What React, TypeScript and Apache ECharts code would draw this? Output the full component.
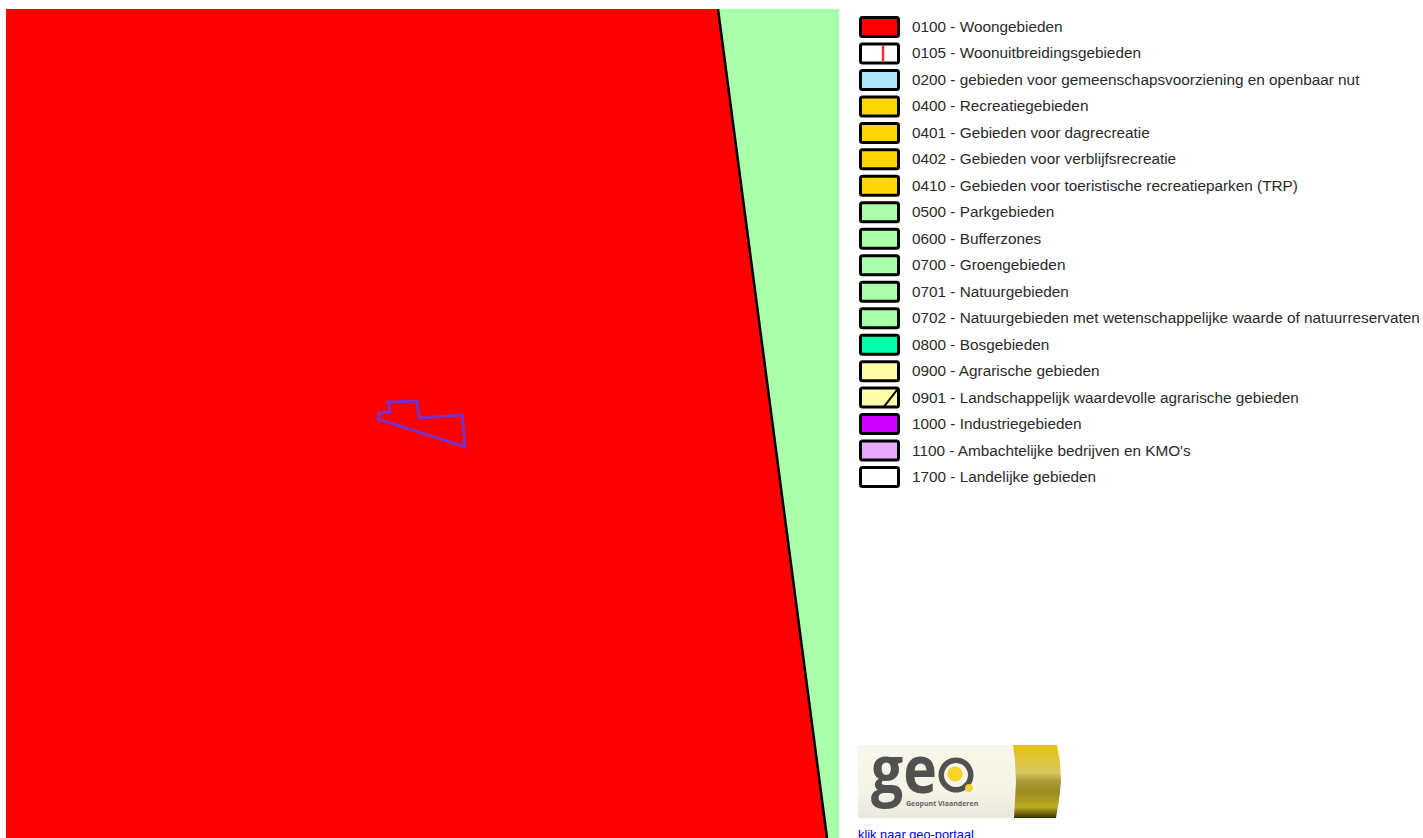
import React, { useEffect, useRef } from "react";
import * as echarts from "echarts";

// Map regions in map units
const zoneNames = ["0700 - Groengebieden", "0100 - Woongebieden"];
const groenZone = [[718, 9], [839, 9], [839, 838], [827, 838]];
const woonZone = [[6, 9], [718, 9], [827, 838], [6, 838]];
const zoneRings = [groenZone, woonZone];
const zoneFills = ["#aaffaa", "#ff0000"];
const boundary = [[718, 9], [827, 838]];
const parcel = [[388, 402], [417, 401], [419, 418], [462, 415], [465, 447], [378, 419], [379, 413], [390, 412]];

const legendLabels = [
  "0100 - Woongebieden",
  "0105 - Woonuitbreidingsgebieden",
  "0200 - gebieden voor gemeenschapsvoorziening en openbaar nut",
  "0400 - Recreatiegebieden",
  "0401 - Gebieden voor dagrecreatie",
  "0402 - Gebieden voor verblijfsrecreatie",
  "0410 - Gebieden voor toeristische recreatieparken (TRP)",
  "0500 - Parkgebieden",
  "0600 - Bufferzones",
  "0700 - Groengebieden",
  "0701 - Natuurgebieden",
  "0702 - Natuurgebieden met wetenschappelijke waarde of natuurreservaten",
  "0800 - Bosgebieden",
  "0900 - Agrarische gebieden",
  "0901 - Landschappelijk waardevolle agrarische gebieden",
  "1000 - Industriegebieden",
  "1100 - Ambachtelijke bedrijven en KMO's",
  "1700 - Landelijke gebieden",
];
const legendFills = [
  "#ff0000", "#ffffff", "#aee6fa", "#ffd700", "#ffd700", "#ffd700", "#ffd700",
  "#aaffaa", "#aaffaa", "#aaffaa", "#aaffaa", "#aaffaa", "#00ffaa", "#ffffaa",
  "#ffffaa", "#cc00ff", "#e6aaff", "#ffffff",
];
const legendHatched = ["0105", "0901"];

const FONT = "Liberation Sans";

function renderZone(params: any, api: any) {
  const ring = zoneRings[params.dataIndex];
  return {
    type: "polygon",
    shape: { points: ring.map((p) => api.coord(p)) },
    style: { fill: zoneFills[params.dataIndex], stroke: null },
  };
}

function renderOutline(points: number[][], stroke: string, lineWidth: number, closed: boolean) {
  return (_: any, api: any) => ({
    type: closed ? "polygon" : "polyline",
    shape: { points: points.map((p) => api.coord(p)) },
    style: { fill: null, stroke, lineWidth, lineJoin: "miter" },
  });
}

function renderLegend(params: any, api: any) {
  const i = params.dataIndex;
  const cy = api.coord([0, i])[1];
  const x = params.coordSys.x;
  const label = legendLabels[i];
  const code = label.slice(0, 4);
  const children: any[] = [
    {
      type: "rect",
      shape: { x: x + 1.5, y: cy - 9.5, width: 38, height: 19, r: 2 },
      style: { fill: legendFills[i], stroke: "#000000", lineWidth: 3 },
    },
    {
      type: "text",
      x: x + 53,
      y: cy - 0.5,
      style: { text: label, font: `15.33px "${FONT}"`, fill: "#2a2a2a", verticalAlign: "middle", align: "left" },
    },
  ];
  if (code === legendHatched[0]) {
    children.push({
      type: "line",
      shape: { x1: x + 24, y1: cy - 8, x2: x + 24, y2: cy + 8 },
      style: { stroke: "#ee3333", lineWidth: 2.5 },
    });
  }
  if (code === legendHatched[1]) {
    children.push({
      type: "line",
      shape: { x1: x + 25, y1: cy + 9, x2: x + 39, y2: cy - 9 },
      style: { stroke: "#000000", lineWidth: 2 },
    });
  }
  return { type: "group", children };
}

export default function App() {
  const ref = useRef<HTMLDivElement>(null);
  useEffect(() => {
    const chart = echarts.init(ref.current!, null, { renderer: "svg" });
    chart.setOption({
      animation: false,
      backgroundColor: "#ffffff",
      grid: [
        { left: 6, top: 9, width: 833, height: 829 },
        { left: 859, top: 13.76, width: 540, height: 476.5 },
      ],
      xAxis: [
        { type: "value", gridIndex: 0, min: 6, max: 839, show: false },
        { type: "value", gridIndex: 1, min: 0, max: 1, show: false },
      ],
      yAxis: [
        { type: "value", gridIndex: 0, min: 9, max: 838, inverse: true, show: false },
        { type: "category", gridIndex: 1, data: legendLabels, inverse: true, show: false },
      ],
      series: [
        {
          type: "custom", name: "zones", xAxisIndex: 0, yAxisIndex: 0, clip: true, silent: true,
          data: zoneNames.map((_, i) => [i]), encode: { x: -1, y: -1 }, renderItem: renderZone,
        },
        {
          type: "custom", name: "grens", xAxisIndex: 0, yAxisIndex: 0, clip: true, silent: true,
          data: [[0]], encode: { x: -1, y: -1 }, renderItem: renderOutline(boundary, "#000000", 2.5, false),
        },
        {
          type: "custom", name: "perceel", xAxisIndex: 0, yAxisIndex: 0, silent: true,
          data: [[0]], encode: { x: -1, y: -1 }, renderItem: renderOutline(parcel, "#7a2fc8", 3, true),
        },
        {
          type: "custom", name: "legende", xAxisIndex: 1, yAxisIndex: 1, silent: true,
          data: legendLabels.map((_, i) => [0, i]), encode: { x: 0, y: 1 }, renderItem: renderLegend,
        },
      ],
      graphic: [
        { type: "text", x: 798, y: 298, style: { text: "N", font: 'bold 27px "Liberation Serif"', fill: "#000000" } },
        {
          type: "rect", shape: { x: 858, y: 745, width: 158, height: 73 },
          style: {
            fill: new echarts.graphic.LinearGradient(0, 0, 0, 1, [
              { offset: 0, color: "#f9f7ea" }, { offset: 0.6, color: "#f5f4e6" }, { offset: 1, color: "#e9e8dc" },
            ]),
          },
        },
        {
          type: "polygon",
          shape: { points: [[1013, 745], [1015, 760], [1016, 782], [1015, 800], [1014, 818], [1056, 818], [1059, 800], [1061, 782], [1060, 762], [1057, 745]] },
          style: {
            fill: new echarts.graphic.LinearGradient(0, 0, 0, 1, [
              { offset: 0, color: "#e3c310" }, { offset: 0.38, color: "#d9c760" }, { offset: 0.5, color: "#a8993a" },
              { offset: 0.65, color: "#9a8a20" }, { offset: 0.85, color: "#c0ac20" }, { offset: 1, color: "#3a3000" },
            ]),
          },
        },
        { type: "text", x: 871, y: 737, scaleX: 0.85, style: { text: "ge", font: 'bold 67px "Open Sans"', lineHeight: 60, fill: "#515151" } },
        { type: "ring", shape: { cx: 956, cy: 775, r: 17.5, r0: 12 }, style: { fill: "#515151" } },
        { type: "circle", shape: { cx: 955, cy: 774, r: 7.5 }, style: { fill: "#f6d32a" } },
        { type: "circle", shape: { cx: 969, cy: 788, r: 4 }, style: { fill: "#f6d32a" } },
        { type: "text", x: 906, y: 800, style: { text: "Geopunt Vlaanderen", font: 'bold 7px "Open Sans"', fill: "#666666" } },
        { type: "text", x: 858, y: 828, style: { text: "klik naar geo-portaal", font: '12.8px "Liberation Sans"', fill: "#0000ee" } },
      ],
    });
    return () => chart.dispose();
  }, []);
  return (
    <div
      ref={ref}
      style={{ position: "absolute", left: 0, top: 0, width: 1423, height: 838, overflow: "hidden" }}
    />
  );
}
